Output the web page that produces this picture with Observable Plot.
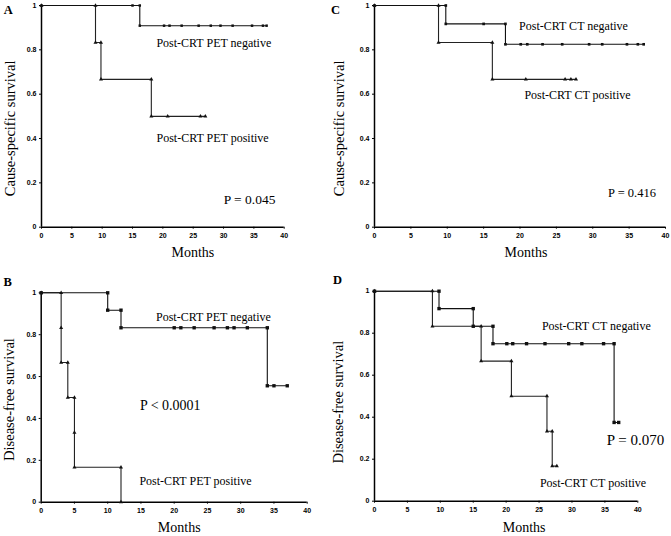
<!DOCTYPE html>
<html><head><meta charset="utf-8">
<script src="https://cdn.jsdelivr.net/npm/d3@7"></script>
<script src="https://cdn.jsdelivr.net/npm/@observablehq/plot@0.6"></script>
<style>
body{margin:0;background:#fff;}
#wrap{position:relative;width:671px;height:536px;overflow:hidden;background:#fff;}
#wrap svg{position:absolute;}
</style></head><body><div id="wrap"></div>
<script>
// Tick values
const xTicks = [0, 5, 10, 15, 20, 25, 30, 35, 40];
const yTicks = [0, 0.2, 0.4, 0.6, 0.8, 1];

// Panel A: cause-specific survival by post-CRT PET
const aNegT = [0, 15.0, 16.2, 16.2, 20.2, 21.1, 23.1, 25.9, 27.9, 29.5, 31.5, 34.7, 36.5, 37.1];
const aNegS = [1, 1, 1, 0.909, 0.909, 0.909, 0.909, 0.909, 0.909, 0.909, 0.909, 0.909, 0.909, 0.909];
const aPosT = [0, 8.9, 8.9, 9.8, 9.8, 18.1, 18.1, 20.8, 26.2, 27.0];
const aPosS = [1, 1, 0.833, 0.833, 0.667, 0.667, 0.5, 0.5, 0.5, 0.5];

// Panel B: disease-free survival by post-CRT PET
const bNegT = [0, 10, 10, 12, 12, 20, 21, 23, 26, 28, 29, 31, 34, 34, 35, 37];
const bNegS = [1, 1, 0.917, 0.917, 0.833, 0.833, 0.833, 0.833, 0.833, 0.833, 0.833, 0.833, 0.833, 0.556, 0.556, 0.556];
const bPosT = [0, 3, 3, 3, 4, 4, 5, 5, 5, 12, 12];
const bPosS = [1, 1, 0.833, 0.667, 0.667, 0.5, 0.5, 0.333, 0.167, 0.167, 0];

// Panel C: cause-specific survival by post-CRT CT
const cNegT = [0, 9.8, 9.8, 15.0, 18.0, 18.0, 20.1, 21.0, 23.1, 25.8, 29.5, 31.3, 34.7, 36.2, 37.0];
const cNegS = [1, 1, 0.917, 0.917, 0.917, 0.825, 0.825, 0.825, 0.825, 0.825, 0.825, 0.825, 0.825, 0.825, 0.825];
const cPosT = [0, 8.8, 8.8, 16.2, 16.2, 20.8, 26.2, 27.0, 27.7];
const cPosS = [1, 1, 0.833, 0.833, 0.667, 0.667, 0.667, 0.667, 0.667];

// Panel D: disease-free survival by post-CRT CT
const dNegT = [0, 9.8, 9.8, 15.0, 15.0, 18.0, 18.0, 20.1, 21.0, 23.1, 25.9, 29.5, 31.5, 34.8, 36.4, 36.4, 37.1];
const dNegS = [1, 1, 0.917, 0.917, 0.833, 0.833, 0.75, 0.75, 0.75, 0.75, 0.75, 0.75, 0.75, 0.75, 0.75, 0.375, 0.375];
const dPosT = [0, 8.8, 8.8, 16.2, 16.2, 20.8, 20.8, 26.2, 26.2, 27.0, 27.0, 27.7];
const dPosS = [1, 1, 0.833, 0.833, 0.667, 0.667, 0.5, 0.5, 0.333, 0.333, 0.167, 0.167];

// Text
const panelLetters = ["A", "B", "C", "D"];
const yTitles = ["Cause-specific survival", "Disease-free survival", "Cause-specific survival", "Disease-free survival"];
const negLabels = ["Post-CRT PET negative", "Post-CRT PET negative", "Post-CRT CT negative", "Post-CRT CT negative"];
const posLabels = ["Post-CRT PET positive", "Post-CRT PET positive", "Post-CRT CT positive", "Post-CRT CT positive"];
const pLabels = ["P = 0.045", "P < 0.0001", "P = 0.416", "P = 0.070"];
const xTitle = "Months";

const SERIF = "Liberation Serif";
const SANS = "Liberation Sans";

function panel(i, negT, negS, posT, posS, L) {
  const neg = negT.map((t, k) => ({t, s: negS[k]}));
  const pos = posT.map((t, k) => ({t, s: posS[k]}));
  const svg = Plot.plot({
    width: L.w, height: L.h,
    marginLeft: L.ml, marginRight: L.mr, marginTop: L.mt, marginBottom: L.mb,
    x: {domain: [0, 40]},
    y: {domain: [0, 1]},
    style: {background: "transparent", overflow: "visible", fontFamily: SERIF, color: "#000"},
    marks: [
      Plot.axisX({ticks: xTicks, tickSize: 2, tickPadding: 4, fontSize: 7, fontWeight: "bold", fontFamily: SANS, label: null, stroke: "#000"}),
      Plot.axisY({ticks: yTicks, tickFormat: d => String(d), tickSize: 2, tickPadding: 3, fontSize: 7, fontWeight: "bold", fontFamily: SANS, label: null, stroke: "#000"}),
      Plot.ruleY([0], {x1: 0, x2: 40, stroke: "#000", strokeWidth: 1.5}),
      Plot.ruleX([0], {y1: 0, y2: 1, stroke: "#000", strokeWidth: 1.5}),
      Plot.line(pos, {x: "t", y: "s", curve: "step-after", stroke: "#222", strokeWidth: 1.1}),
      Plot.line(neg, {x: "t", y: "s", curve: "step-after", stroke: "#111", strokeWidth: 1.1}),
      Plot.dot(pos, {x: "t", y: "s", symbol: "triangle", r: L.rp, fill: "#111", stroke: null}),
      Plot.dot(neg, {x: "t", y: "s", symbol: "square", r: L.rn, fill: "#111", stroke: null}),
      Plot.text([negLabels[i]], {x: L.neg[0], y: L.neg[1], fontSize: 12, fontFamily: SERIF, fill: "#000"}),
      Plot.text([posLabels[i]], {x: L.pos[0], y: L.pos[1], fontSize: 12, fontFamily: SERIF, fill: "#000"}),
      Plot.text([pLabels[i]], {x: L.p[0], y: L.p[1], fontSize: L.pfs, fontFamily: SERIF, fill: "#000"}),
      Plot.text([xTitle], {frameAnchor: "bottom", dx: L.xt[0], dy: L.xt[1], fontSize: 14, fontFamily: SERIF, fill: "#000", lineAnchor: "middle"}),
      Plot.text([yTitles[i]], {frameAnchor: "left", rotate: -90, dx: L.yt[0], dy: L.yt[1], fontSize: 14.5, fontFamily: SERIF, fill: "#000", textAnchor: "middle", lineAnchor: "middle"}),
      Plot.text([panelLetters[i]], {frameAnchor: "top-left", dx: L.lt[0], dy: L.lt[1], fontSize: 12.5, fontWeight: "bold", fontFamily: SERIF, fill: "#000", textAnchor: "middle", lineAnchor: "middle"})
    ]
  });
  svg.style.left = L.left + "px";
  svg.style.top = L.top + "px";
  document.getElementById("wrap").appendChild(svg);
}

panel(0, aNegT, aNegS, aPosT, aPosS, {
  left: 0, top: 0, w: 335, h: 268, ml: 41, mr: 51.3, mt: 5, mb: 41.3,
  neg: [28.4, 0.83], pos: [28.2, 0.40], p: [34.3, 0.124], pfs: 13.5,
  xt: [30, 25], yt: [-31, 12], lt: [-33.3, 4.2], rn: 1.4, rp: 1.5
});
panel(1, bNegT, bNegS, bPosT, bPosS, {
  left: 0, top: 268, w: 335, h: 268, ml: 40.7, mr: 28.3, mt: 24.3, mb: 34.3,
  neg: [25.9, 0.885], pos: [23.2, 0.10], p: [19.4, 0.463], pfs: 14,
  xt: [5, 25.5], yt: [-31.7, 2], lt: [-33.5, -10.6], rn: 1.9, rp: 1.5
});
panel(2, cNegT, cNegS, cPosT, cPosS, {
  left: 330, top: 0, w: 341, h: 268, ml: 44, mr: 6, mt: 5, mb: 41.3,
  neg: [27.35, 0.905], pos: [27.9, 0.597], p: [35.4, 0.153], pfs: 12.5,
  xt: [6, 25], yt: [-35, 12], lt: [-39, 4.5], rn: 1.5, rp: 1.5
});
panel(3, dNegT, dNegS, dPosT, dPosS, {
  left: 330, top: 268, w: 341, h: 268, ml: 44, mr: 33.7, mt: 22.7, mb: 35.3,
  neg: [33.7, 0.835], pos: [33.2, 0.088], p: [39.65, 0.29], pfs: 15,
  xt: [18, 26.5], yt: [-36, 6], lt: [-37, -11], rn: 1.9, rp: 1.5
});
</script>
</body></html>
